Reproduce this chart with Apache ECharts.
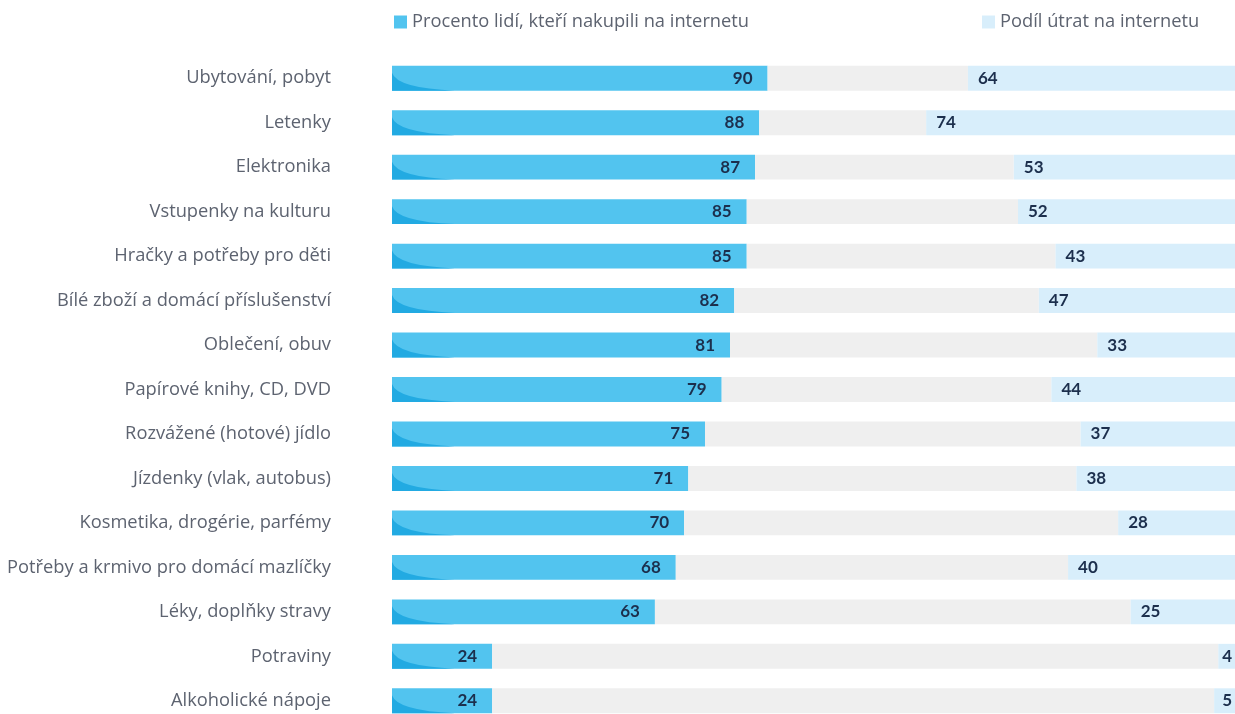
<!DOCTYPE html>
<html><head><meta charset="utf-8">
<script src="https://cdn.jsdelivr.net/npm/echarts@6/dist/echarts.min.js"></script>
<style>html,body{margin:0;padding:0;background:#fff;overflow:hidden}#c{width:1235px;height:740px}</style>
</head><body><div id="c"></div>
<script>
const categories = ["Ubytování, pobyt","Letenky","Elektronika","Vstupenky na kulturu","Hračky a potřeby pro děti","Bílé zboží a domácí příslušenství","Oblečení, obuv","Papírové knihy, CD, DVD","Rozvážené (hotové) jídlo","Jízdenky (vlak, autobus)","Kosmetika, drogérie, parfémy","Potřeby a krmivo pro domácí mazlíčky","Léky, doplňky stravy","Potraviny","Alkoholické nápoje"];
const bought = [90,88,87,85,85,82,81,79,75,71,70,68,63,24,24];
const spending = [64,74,53,52,43,47,33,44,37,38,28,40,25,4,5];
const TOTAL = 202;
const seriesNames = ["Procento lidí, kteří nakupili na internetu","Podíl útrat na internetu"];

const filler = bought.map((b,i)=>TOTAL-b-spending[i]);
const GAP = 0.44;
const chart = echarts.init(document.getElementById('c'));
const valueLabel = {color:'#1c2f4d',fontFamily:'Lato',fontWeight:'bold',fontSize:17};
const txt = {color:'#5d6370',fontFamily:'Open Sans',fontSize:18.3};
chart.setOption({
  animation:false,
  legend:[
    {left:389,top:8,icon:'rect',itemWidth:13,itemHeight:13,itemGap:10,data:[seriesNames[0]],textStyle:txt},
    {left:977,top:8,icon:'rect',itemWidth:13,itemHeight:13,data:[seriesNames[1]],textStyle:txt}
  ],
  grid:{left:392,right:0,top:56,height:667,containLabel:false},
  xAxis:{type:'value',min:0,max:TOTAL,show:false},
  yAxis:{type:'category',data:categories,inverse:true,
    axisLine:{show:false},axisTick:{show:false},splitLine:{show:false},
    axisLabel:{margin:61,...txt}},
  series:[
    {name:seriesNames[0],type:'bar',stack:'s',data:bought,barCategoryGap:(GAP*100)+'%',
     itemStyle:{color:'#52c4ef'},
     label:{show:true,position:'insideRight',distance:15,...valueLabel}},
    {name:'rest',type:'bar',stack:'s',data:filler,silent:true,itemStyle:{color:'#efefef'}},
    {name:seriesNames[1],type:'bar',stack:'s',
     data:spending.map(v=>v<10?{value:v,label:{position:'insideRight',distance:3}}:v),
     itemStyle:{color:'#d8eefb'},
     label:{show:true,position:'insideLeft',distance:10,...valueLabel}},
    {name:'swoosh',type:'custom',silent:true,z:5,
     data:bought.map((v,i)=>[0,i,v]),encode:{x:0,y:1},
     renderItem:function(params,api){
       const p0 = api.coord([0,api.value(1)]);
       const pe = api.coord([api.value(2),api.value(1)]);
       const band = api.size([0,1])[1];
       const h = band*(1-GAP);
       const top = p0[1]-h/2, bot = p0[1]+h/2;
       const x0 = p0[0];
       const w = Math.min(63, pe[0]-x0);
       return {type:'path',shape:{pathData:
         'M'+x0+','+(top+0.28*h)+' Q'+(x0+5)+','+(top+0.9*h)+' '+(x0+w)+','+bot+' L'+x0+','+bot+' Z'},
         style:{fill:'#22aae2'}};
     }}
  ]
});
</script></body></html>
